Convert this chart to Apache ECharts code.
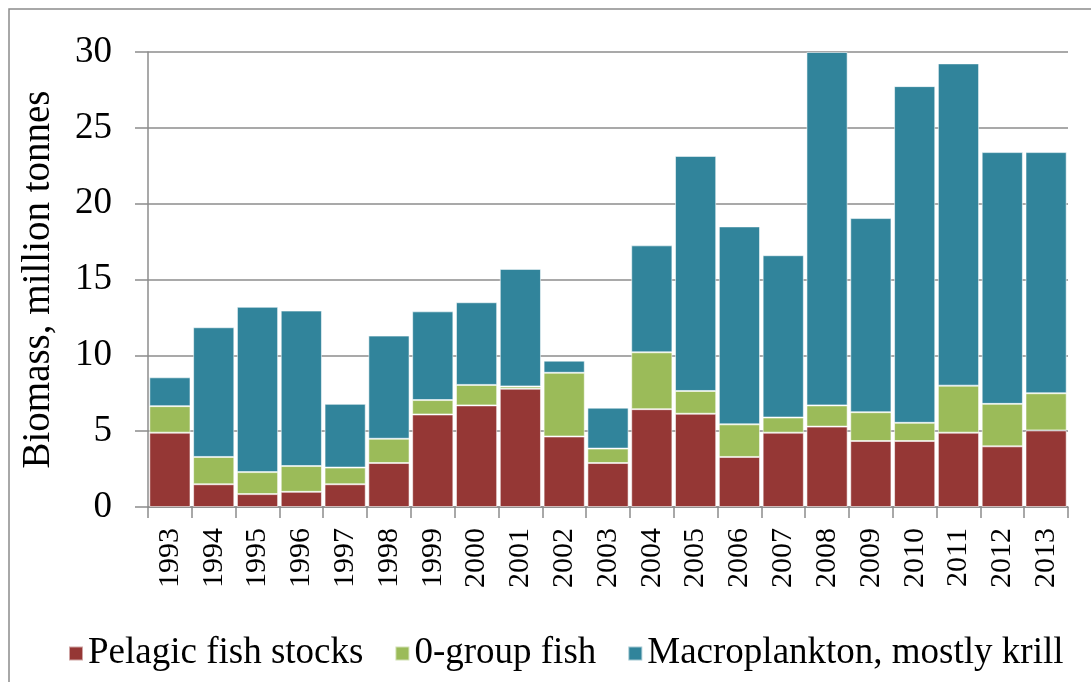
<!DOCTYPE html>
<html>
<head>
<meta charset="utf-8">
<script src="https://cdn.jsdelivr.net/npm/echarts@6/dist/echarts.min.js"></script>
<style>
html,body{margin:0;padding:0;background:#fff;}
#chart{width:1091px;height:682px;}
</style>
</head>
<body>
<div id="chart"></div>
<script>
const years = ['1993','1994','1995','1996','1997','1998','1999','2000','2001','2002','2003','2004','2005','2006','2007','2008','2009','2010','2011','2012','2013'];
const pelagic = [4.9,1.5,0.85,1.0,1.5,2.9,6.1,6.7,7.8,4.65,2.9,6.45,6.15,3.3,4.9,5.3,4.35,4.35,4.9,4.0,5.05];
const zeroGroup = [1.75,1.8,1.45,1.7,1.1,1.6,0.95,1.35,0.15,4.2,0.95,3.75,1.5,2.15,1.0,1.4,1.9,1.2,3.1,2.8,2.45];
const macroplankton = [1.9,8.55,10.9,10.25,4.2,6.8,5.85,5.45,7.75,0.8,2.7,7.05,15.5,13.05,10.7,23.3,12.8,22.2,21.25,16.6,15.9];
const seriesNames = ['Pelagic fish stocks','0-group fish','Macroplankton, mostly krill'];
const colors = ['#953735','#9BBB59','#31849B'];

const FONT = "'Liberation Serif','Times New Roman',serif";
const chart = echarts.init(document.getElementById('chart'), null, {renderer:'canvas'});
const dataSets = [pelagic, zeroGroup, macroplankton];
chart.setOption({
  animation:false,
  backgroundColor:'#fff',
  graphic:[{type:'rect', shape:{x:9,y:9,width:1200,height:800}, style:{fill:'none', stroke:'#8c8c8c', lineWidth:1.5}, silent:true, z:-1}],
  grid:{left:148, top:52, right:23, bottom:175, containLabel:false},
  legend:{
    data:seriesNames, left:63, top:630, itemWidth:14, itemHeight:14, itemGap:31,
    icon:'rect',
    textStyle:{fontFamily:FONT, fontSize:37, color:'#000', padding:[0,0,0,0]}
  },
  xAxis:{
    type:'category', data:years,
    axisLine:{lineStyle:{color:'#8c8c8c', width:1.5}},
    axisTick:{show:true, length:11, inside:false, lineStyle:{color:'#8c8c8c', width:1.5}},
    axisLabel:{rotate:90, fontFamily:FONT, fontSize:30, color:'#000', margin:21, interval:0}
  },
  yAxis:{
    type:'value', min:0, max:30, interval:5,
    name:'Biomass, million tonnes', nameLocation:'middle', nameGap:90, nameRotate:90,
    nameTextStyle:{fontFamily:FONT, fontSize:39, color:'#000'},
    axisLine:{show:true, lineStyle:{color:'#8c8c8c', width:1.5}},
    axisTick:{show:true, length:13, lineStyle:{color:'#8c8c8c', width:1.5}},
    splitLine:{lineStyle:{color:'#8c8c8c', width:1.5}},
    axisLabel:{fontFamily:FONT, fontSize:37, color:'#000', margin:36}
  },
  series: seriesNames.map((n,i)=>({
    name:n, type:'bar', stack:'total', data:dataSets[i], barCategoryGap:'6%',
    itemStyle:{color:colors[i], borderColor:'rgba(255,255,255,0.55)', borderWidth:1}
  }))
});
</script>
</body>
</html>
